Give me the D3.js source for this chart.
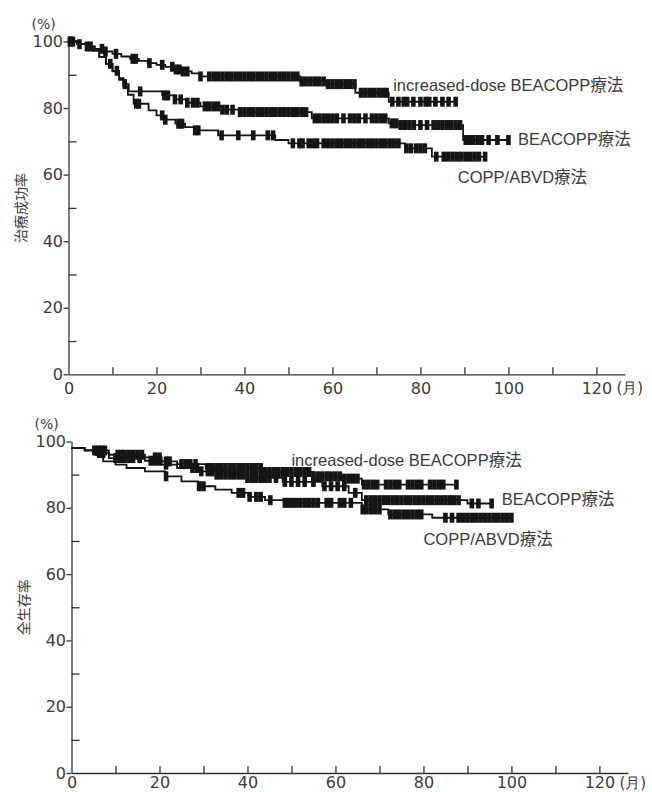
<!DOCTYPE html>
<html>
<head>
<meta charset="utf-8">
<script src="https://cdn.jsdelivr.net/npm/d3@7"></script>
<style>
  body { margin: 0; background: #fff; }
  svg text { font-family: "DejaVu Sans", sans-serif; fill: #3a3a3a; }
  svg text.curve-label { font-family: "Liberation Sans", Arial, "Noto Sans CJK JP", sans-serif; font-size: 16.5px; }
</style>
</head>
<body>
<svg id="chart" width="652" height="792"></svg>
<script>
// axis ticks
const monthTicks = [0, 20, 40, 60, 80, 100, 120];
const monthMinorTicks = [10, 20, 30, 40, 50, 60, 70, 80, 90, 100, 110, 120];
const pctTicks = [0, 20, 40, 60, 80, 100];
const pctMinorTicks = [10, 30, 50, 70, 90];
const seriesNames = ["increased-dose BEACOPP療法", "BEACOPP療法", "COPP/ABVD療法"];

// 治療成功率 : step points [month, %], last follow-up month, censor months
const efsIncSteps = [[0,100],[2,99.2],[4,98.5],[6,97.8],[8,97],[10,96.3],[12,95.5],[14,94.8],[16,94.2],[18,93.5],[20,93],[22,92.4],[24,91.6],[26,91],[28,90.4],[30,89.5],[52.7,88],[58.9,87.2],[65.2,84.6],[72.8,81.9]];
const efsIncEnd = 88;
const efsIncCens = [0.3,1,4.2,5,7.6,8.4,10.8,14.6,15.3,18.4,21.3,23.6,24.4,25.2,26,27,30,32,33,34,35,36,37,38,39,40,41,42,43,44,45,46,47,48,49,50,51,52,53,54,55,56,57,58,59,60,61,62,63,64,65,66.5,67.5,68.5,69.5,70.5,71.5,72.3,73.6,75,76.2,77,78.4,80,81.2,82,83.4,85,86.4,88];

const efsBeaSteps = [[0,100],[2,99.2],[4,98.5],[5.5,97.3],[7,95.4],[8.5,93.3],[10,91.2],[11.5,89],[12.5,87.2],[13.7,85],[21.3,83.8],[24,82.6],[27,81.6],[30,80.5],[35,79.5],[39,78.8],[55.3,76.9],[72.8,75.4],[75,74.9],[89.7,70.4]];
const efsBeaEnd = 100;
const efsBeaCens = [0.5,2.5,9.5,11,12.8,16.3,21.8,22.6,24.2,25.5,27,28.3,29.3,31,32,33,34,35,36,37.3,39,40,41,42,43,44,45,46,47,48,49,50,51,52,53,54,56,57,58,59,60,61,62.5,64,65,66,67.5,69,70,71,72,73.5,74.5,75.5,76.5,77.5,78.5,80,81.5,83,84,85,86,87,88,89,90.3,91.2,92,93,94,95.5,97.5,100];

const efsCopSteps = [[0,100],[2,99.2],[4,98.5],[5.5,97.3],[7,95.4],[8.5,93.3],[10,91],[11.5,88.5],[12.5,86.5],[13.5,84],[14.8,81.3],[18.2,79.3],[20,77.8],[21.5,76.5],[24.3,75.3],[26.5,74.3],[28.8,73.3],[34,71.8],[47,70.4],[50,69.4],[76.5,67.9],[82.6,65.4]];
const efsCopEnd = 94.7;
const efsCopCens = [15.4,16,21.3,22,25,25.8,28.8,29.5,34.8,38.6,42,45.3,46.5,51,52.5,53.2,54.6,55.6,56.5,58,59,60,61,62,63,64,65,66,67,68,69,70,71,72,73,74,75,76.8,77.8,79,80,81,83.6,85.3,86.3,87.3,88.3,89.3,90.3,91.3,92.3,93.3,94.7];

// 全生存率
const osIncSteps = [[0,98],[3,97.3],[8.5,96],[16.7,95.2],[20.5,94],[24,93.2],[30.5,92],[44,90.8],[55,89.5],[62,88.8],[66,87]];
const osIncEnd = 87.5;
const osIncCens = [5.2,6,6.8,7.6,10.5,11.3,12,13,14,15,16,19,20,21.5,22.3,25,26,27,28.2,31,32,33,34,35,36,37,38,39,40,41,42,43,44,45,46,47,48,49,50,51,52,53,54,55,56,57,58,59,60,61,62,63,64,65,66.5,67.5,68.5,69.5,71.5,72.5,73.5,74.5,76.5,77.5,78.5,79.5,81.5,82.5,83.5,84.5,87.5];

const osBeaSteps = [[0,98],[3,97.3],[6,96.5],[8.5,95],[16.7,94.2],[20.5,93],[24,92],[29,91],[33,90],[40,89],[48,87.8],[57,86.5],[63,84.5],[66,82.3],[90,81.3]];
const osBeaEnd = 95.5;
const osBeaCens = [6.3,7.2,10,11,12,13,14,15.5,18,19,20,21.5,27.5,28.5,29.5,31,32,33,34,35,36,37,38,39,40,41,42,43,44,45,46.5,48.5,50,51.5,53,55,57.5,59,60.5,62,64.5,67,68,69,70,71,72,73,74,75,76,77,78,79,80,81,82,83,84,85,86,87,88,91,92.5,95.5];

const osCopSteps = [[0,98],[3,97.3],[5.5,96],[7.2,94],[10,93],[12.5,92],[16.7,91],[21.3,89.5],[25,88],[28.8,86.5],[32.7,85.5],[36.4,84.5],[40.2,83.3],[44,82.3],[48.5,81.5],[66,79.5],[72,78],[82,77]];
const osCopEnd = 100;
const osCopCens = [21.5,29,30,38,39,40.5,42,43,45.2,48.5,49.3,50.2,51,52,53,54,55,56,58,59,61,62,63.5,66.2,67,68,69,70,72.5,73.5,74.5,75.5,76.5,77.5,78.5,79.5,85,86.5,88,89,90,91,92,93,94,95,96,97,98,99,100];

const svg = d3.select("#chart");

function survAt(steps, t) {
  let v = steps[0][1];
  for (const s of steps) { if (s[0] <= t) v = s[1]; }
  return v;
}

function drawPanel(cfg) {
  const x = d3.scaleLinear().domain([0, 126.5]).range([cfg.left, cfg.right]);
  const y = d3.scaleLinear().domain([0, 100]).range([cfg.bottom, cfg.top]);
  const g = svg.append("g");

  // y axis: labelled ticks outward, minor ticks inward
  const yAx = g.append("g").attr("transform", `translate(${cfg.left},0)`)
    .call(d3.axisLeft(y).tickValues(pctTicks).tickSize(5).tickSizeOuter(0).tickPadding(0.5));
  yAx.selectAll("text").style("font-size", "16px");
  g.append("g").attr("transform", `translate(${cfg.left},0)`)
    .call(d3.axisRight(y).tickValues(pctMinorTicks).tickSize(8).tickFormat(""))
    .select(".domain").remove();

  // x axis
  const xAx = g.append("g").attr("transform", `translate(0,${cfg.bottom})`)
    .call(d3.axisBottom(x).tickValues(monthTicks).tickSize(0).tickSizeOuter(0).tickPadding(cfg.xPad));
  xAx.selectAll("text").style("font-size", "16px");
  g.append("g").attr("transform", `translate(0,${cfg.bottom})`)
    .call(d3.axisBottom(x).tickValues(monthMinorTicks).tickSize(-7).tickFormat(""))
    .select(".domain").remove();
  g.selectAll(".domain, .tick line").attr("stroke", "#333").attr("stroke-width", 1.3);

  g.append("text").attr("x", x(120) + 20).attr("y", cfg.bottom + cfg.xPad)
    .attr("dy", "0.71em").style("font-size", "15px").text("(月)");
  g.append("text").attr("x", cfg.left - 37).attr("y", y(100) - 13)
    .style("font-size", "14px").text("(%)");
  g.append("text")
    .attr("transform", `translate(${cfg.left - 47},${(cfg.top + cfg.bottom) / 2}) rotate(-90)`)
    .attr("text-anchor", "middle").attr("dy", "0.35em")
    .style("font-size", "14px").style("font-family", "'Noto Sans CJK JP', sans-serif")
    .text(cfg.title);

  const line = d3.line().curve(d3.curveStepAfter).x(d => x(d[0])).y(d => y(d[1]));
  cfg.series.forEach((s, i) => {
    const pts = s.steps.concat([[s.end, s.steps[s.steps.length - 1][1]]]);
    g.append("path").attr("d", line(pts)).attr("fill", "none")
      .attr("stroke", "#151515").attr("stroke-width", 1.8);
    g.append("g").selectAll("line").data(s.cens).join("line")
      .attr("x1", d => x(d)).attr("x2", d => x(d))
      .attr("y1", d => y(survAt(s.steps, d)) - 5)
      .attr("y2", d => y(survAt(s.steps, d)) + 5)
      .attr("stroke", "#151515").attr("stroke-width", 4.6);
    g.append("text").attr("class", "curve-label")
      .attr("x", x(s.label[0])).attr("y", y(s.label[1]))
      .text(seriesNames[i]);
  });
}

drawPanel({
  left: 68.5, right: 625, top: 41.5, bottom: 374.3, xPad: 8, title: "治療成功率",
  series: [
    { steps: efsIncSteps, end: efsIncEnd, cens: efsIncCens, label: [73.8, 85.1] },
    { steps: efsBeaSteps, end: efsBeaEnd, cens: efsBeaCens, label: [102.2, 68.9] },
    { steps: efsCopSteps, end: efsCopEnd, cens: efsCopCens, label: [88.5, 57.5] }
  ]
});

drawPanel({
  left: 71.5, right: 628, top: 441.5, bottom: 773, xPad: 4, title: "全生存率",
  series: [
    { steps: osIncSteps, end: osIncEnd, cens: osIncCens, label: [50, 92.6] },
    { steps: osBeaSteps, end: osBeaEnd, cens: osBeaCens, label: [97.8, 80.8] },
    { steps: osCopSteps, end: osCopEnd, cens: osCopCens, label: [80, 68.8] }
  ]
});
</script>
</body>
</html>
